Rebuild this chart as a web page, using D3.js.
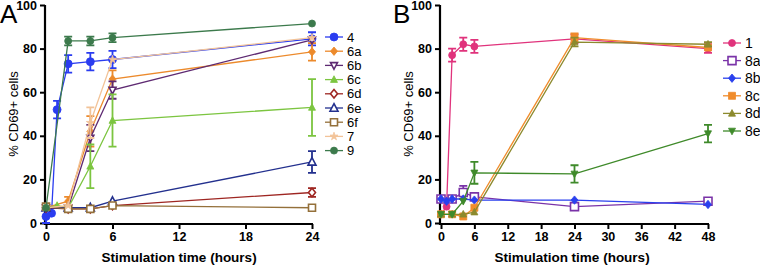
<!DOCTYPE html>
<html><head><meta charset="utf-8">
<script src="https://cdn.jsdelivr.net/npm/d3@7"></script>
<style>body{margin:0;background:#fff}svg{display:block;font-family:"Liberation Sans",Arial,sans-serif}</style>
</head><body><svg id="c" width="760" height="267"></svg>
<script>
// ---- Panel A data ----
const namesA = ["4","6a","6b","6c","6d","6e","6f","7","9"];
const tA_4  = [0,0.5,1,2,4,6,24];   const yA_4  = [3,4.5,52,73,74,75,84.5]; const eA_4 = [3,0,4,4,4,4,3];
const tA_6a = [0,2,4,6,24];         const yA_6a = [7,10,42,66,78.5];        const eA_6a = [0,2,7,4,4];
const tA_6b = [0,2,4,6,24];         const yA_6b = [7,7,39,61,84];           const eA_6b = [0,0,6,4,0];
const tA_6c = [0,1,2,4,6,24];       const yA_6c = [7,8,7,26,47,53];         const eA_6c = [0,0,0,10,12,13];
const tA_6d = [0,2,4,6,24];         const yA_6d = [7,6.5,6.5,8,14];         const eA_6d = [0,0,0,0,2];
const tA_6e = [0,2,4,6,24];         const yA_6e = [7,7,7,10,28];            const eA_6e = [0,0,0,0,5];
const tA_6f = [0,2,4,6,24];         const yA_6f = [7.5,6.5,6.5,8,7];        const eA_6f = [0,0,0,0,0];
const tA_7  = [0,2,4,6,24];         const yA_7  = [7,8,46,75,85];           const eA_7  = [0,0,7,0,0];
const tA_9  = [0,2,4,6,24];         const yA_9  = [7,83.5,83.5,85,91.5];    const eA_9  = [0,2,2,2,0];
// ---- Panel B data ----
const namesB = ["1","8a","8b","8c","8d","8e"];
const tB_1  = [0,1,2,4,6,24,48];    const yB_1  = [4,7.5,77,82,81,84.5,80]; const eB_1  = [0,0,3,3,3,2,2];
const tB_8a = [0,2,4,6,24,48];      const yB_8a = [11,11,14,12,7.5,10];     const eB_8a = [0,0,3,0,0,0];
const tB_8b = [0,1,2,4,6,24,48];    const yB_8b = [11,10,11,11,10.5,10.5,8.5]; const eB_8b = [0,0,0,0,0,0,0];
const tB_8c = [0,2,4,6,24,48];      const yB_8c = [4,4,3,7,85,80.5];        const eB_8c = [0,0,0,0,2,0];
const tB_8d = [0,2,4,6,24,48];      const yB_8d = [4,4,4,5,83,82];          const eB_8d = [0,0,0,0,2,1];
const tB_8e = [0,2,4,6,24,48];      const yB_8e = [4,4,10,23,22.5,41];      const eB_8e = [0,0,0,5,4,4];
const yTicks = [0,20,40,60,80,100];
const xTicksA = [0,6,12,18,24];
const xTicksB = [0,6,12,18,24,30,36,42,48];

const seriesA = [
 {n:"4", t:tA_4, y:yA_4, e:eA_4}, {n:"6a", t:tA_6a, y:yA_6a, e:eA_6a}, {n:"6b", t:tA_6b, y:yA_6b, e:eA_6b},
 {n:"6c", t:tA_6c, y:yA_6c, e:eA_6c}, {n:"6d", t:tA_6d, y:yA_6d, e:eA_6d}, {n:"6e", t:tA_6e, y:yA_6e, e:eA_6e},
 {n:"6f", t:tA_6f, y:yA_6f, e:eA_6f}, {n:"7", t:tA_7, y:yA_7, e:eA_7}, {n:"9", t:tA_9, y:yA_9, e:eA_9}];
const seriesB = [
 {n:"1", t:tB_1, y:yB_1, e:eB_1}, {n:"8a", t:tB_8a, y:yB_8a, e:eB_8a}, {n:"8b", t:tB_8b, y:yB_8b, e:eB_8b},
 {n:"8c", t:tB_8c, y:yB_8c, e:eB_8c}, {n:"8d", t:tB_8d, y:yB_8d, e:eB_8d}, {n:"8e", t:tB_8e, y:yB_8e, e:eB_8e}];

const style = {
 "4":{c:"#2a3cf0", s:"circle", f:true, r:4},
 "6a":{c:"#ec8a2c", s:"diamond", f:true, r:3.5},
 "6b":{c:"#5e2a72", s:"tdown", f:false, r:3.5},
 "6c":{c:"#7cc540", s:"tup", f:true, r:3.5},
 "6d":{c:"#9e2622", s:"diamond", f:false, r:3.5},
 "6e":{c:"#23308e", s:"tup", f:false, r:4},
 "6f":{c:"#94703a", s:"square", f:false, r:3.5},
 "7":{c:"#f2c398", s:"star", f:true, r:3.5},
 "9":{c:"#3c7a4c", s:"circle", f:true, r:3.5},
 "1":{c:"#e0337c", s:"circle", f:true, r:3.5},
 "8a":{c:"#7a33a8", s:"square", f:false, r:4},
 "8b":{c:"#2a40ee", s:"diamond", f:true, r:3.5},
 "8c":{c:"#f08c2c", s:"square", f:true, r:3.5},
 "8d":{c:"#8c8a2e", s:"tup", f:true, r:3.5},
 "8e":{c:"#3f8a2a", s:"tdown", f:true, r:3.5}
};

const svg = d3.select("#c");
function marker(g, x, y, st){
  const r = st.r; let p;
  if(st.s==="circle") p = g.append("circle").attr("cx",x).attr("cy",y).attr("r",r);
  else {
    let pts;
    if(st.s==="square") pts=[[-r,-r],[r,-r],[r,r],[-r,r]];
    else if(st.s==="diamond") pts=[[0,-r*1.2],[r,0],[0,r*1.2],[-r,0]];
    else if(st.s==="tup") pts=[[0,-r*1.1],[r,r*0.8],[-r,r*0.8]];
    else if(st.s==="tdown") pts=[[0,r*1.1],[r,-r*0.8],[-r,-r*0.8]];
    else if(st.s==="star"){pts=[];for(let i=0;i<10;i++){const a=-Math.PI/2+i*Math.PI/5;const rr=i%2?r*0.45:r*1.2;pts.push([rr*Math.cos(a),rr*Math.sin(a)]);}}
    p = g.append("path").attr("d","M"+pts.map(q=>[x+q[0],y+q[1]].join(",")).join("L")+"Z");
  }
  p.attr("fill", st.f? st.c : "#fff").attr("stroke", st.c).attr("stroke-width", st.f?0.8:1.6);
}

function panel(opts){
  const x = d3.scaleLinear().domain([0,opts.xmax]).range([opts.x0, opts.x1]);
  const y = d3.scaleLinear().domain([0,100]).range([223,5]);
  const g = svg.append("g");
  const ay = g.append("g").attr("transform",`translate(${opts.x0-1},0)`).call(d3.axisLeft(y).tickValues(yTicks).tickSize(5).tickPadding(3));
  const ax = g.append("g").attr("transform",`translate(0,224)`).call(d3.axisBottom(x).tickValues(opts.xt).tickSize(5).tickPadding(3));
  [ay,ax].forEach(a=>{a.select(".domain").attr("stroke","#000").attr("stroke-width",2.2);
    a.selectAll(".tick line").attr("stroke","#000").attr("stroke-width",2);
    a.selectAll("text").attr("font-size",12.5).attr("font-weight","bold").attr("fill","#000").attr("font-family","Liberation Sans, Arial, sans-serif");});
  ax.select(".domain").attr("d",`M${opts.x0-2},0H${opts.x1+1}`);
  ay.select(".domain").attr("d",`M0,${y(100)}V${225}`);
  opts.series.forEach(s=>{
    const st = style[s.n];
    const sg = g.append("g");
    const pts = s.t.map((t,i)=>[x(t), y(s.y[i])]);
    sg.append("path").attr("d", d3.line()(pts)).attr("fill","none").attr("stroke",st.c).attr("stroke-width",1.3);
    s.t.forEach((t,i)=>{
      if(s.e[i]>0){
        const xx=x(t), y1=y(s.y[i]+s.e[i]), y2=y(Math.max(0,s.y[i]-s.e[i]));
        sg.append("path").attr("d",`M${xx},${y1}V${y2}M${xx-4},${y1}H${xx+4}M${xx-4},${y2}H${xx+4}`)
          .attr("stroke",st.c).attr("stroke-width",1.8).attr("fill","none");
      }
    });
    pts.forEach(p=>marker(sg,p[0],p[1],st));
  });
  opts.series.forEach((s,i)=>{
    const st = style[s.n]; const ly = opts.ly0 + i*opts.ldy;
    g.append("line").attr("x1",opts.lx-9).attr("x2",opts.lx+9).attr("y1",ly).attr("y2",ly).attr("stroke",st.c).attr("stroke-width",1.3);
    marker(g, opts.lx, ly, st);
    g.append("text").attr("x",opts.lx+13).attr("y",ly).attr("dy","0.35em").attr("font-size",opts.lfs).attr("fill","#000").text(s.n);
  });
  g.append("text").attr("transform",`translate(${opts.x0-28},${114}) rotate(-90)`).attr("text-anchor","middle")
    .attr("font-size",13).attr("fill","#000").text("% CD69+ cells");
  g.append("text").attr("x",opts.xlc).attr("y",262).attr("text-anchor","middle").attr("font-size",13.5)
    .attr("font-weight","bold").attr("fill","#000").text("Stimulation time (hours)");
  g.append("text").attr("x",opts.lettx).attr("y",23).attr("font-size",26).attr("fill","#000").text(opts.letter);
}

panel({x0:46, x1:312, xmax:24, xt:xTicksA, series:seriesA, lx:334, ly0:37, ldy:14.2, lfs:13, xlc:179, letter:"A", lettx:0});
panel({x0:441, x1:708, xmax:48, xt:xTicksB, series:seriesB, lx:732, ly0:43, ldy:17.6, lfs:14, xlc:572, letter:"B", lettx:393});
</script></body></html>
